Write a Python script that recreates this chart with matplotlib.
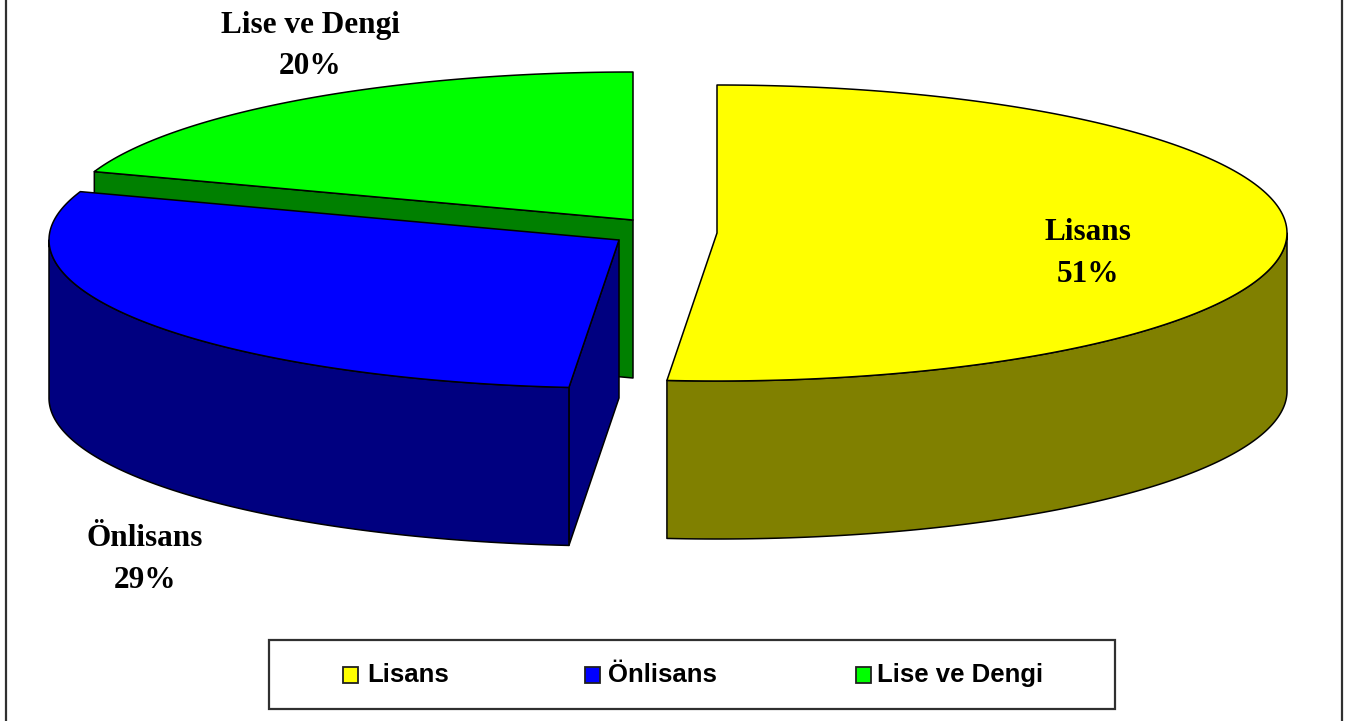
import numpy as np
import matplotlib
matplotlib.use("Agg")
import matplotlib.pyplot as plt
from matplotlib.patches import Polygon, Rectangle

categories = ["Lisans", "Önlisans", "Lise ve Dengi"]
values = [51.4, 28.9, 19.7]
percent_labels = ["51%", "29%", "20%"]
top_colors = ["#FFFF00", "#0000FF", "#00FF00"]
side_colors = ["#808000", "#000080", "#008000"]

# layout in image pixels
centers = [(717, 233), (619, 240), (633, 220)]
label_pos = [(1088, 233, 274), (145, 538, 581), (310, 26, 67)]
swatch_x = [343, 585, 856]
legend_text_x = [367, 608, 877]
RX, RY, DEPTH = 570, 148, 158

fig = plt.figure(figsize=(13.46, 7.21), dpi=100)
ax = fig.add_axes([0, 0, 1, 1])
ax.set_xlim(0, 1346)
ax.set_ylim(721, 0)
ax.axis("off")

LW = 1.1


def rim(cx, cy, a0, a1):
    t = np.radians(np.linspace(a0, a1, 200))
    return np.column_stack([cx + RX * np.sin(t), cy - RY * np.cos(t)])


def poly(pts, fc, z):
    ax.add_patch(Polygon(pts, closed=True, facecolor=fc, edgecolor="black",
                         linewidth=LW, joinstyle="round", zorder=z))


edges = np.concatenate([[0], np.cumsum(values)]) / np.sum(values) * 360
order = [2, 1, 0]  # back to front
for z, i in enumerate(order):
    a0, a1 = edges[i], edges[i + 1]
    cx, cy = centers[i]
    base = 10 * (z + 1)
    down = np.array([0, DEPTH])
    apex = np.array([cx, cy])

    def radial(a):
        return rim(cx, cy, a, a)[0]

    # cut faces that look toward the viewer
    if 180 < a0 < 360:
        p = radial(a0)
        poly([apex, p, p + down, apex + down], side_colors[i], base)
    if 0 < a1 < 180:
        p = radial(a1)
        poly([apex, p, p + down, apex + down], side_colors[i], base)
    # outer wall: front half of the rim only
    w0, w1 = max(a0, 90), min(a1, 270)
    if w1 > w0:
        arc = rim(cx, cy, w0, w1)
        poly(np.vstack([arc, arc[::-1] + down]), side_colors[i], base + 1)
    # top surface
    poly(np.vstack([[apex], rim(cx, cy, a0, a1)]), top_colors[i], base + 2)

# data labels
for name, pct, (x, y1, y2) in zip(categories, percent_labels, label_pos):
    for s, y in ((name, y1), (pct, y2)):
        ax.text(x, y, s, ha="center", va="center", fontsize=22.5,
                fontweight="bold", family="Liberation Serif", color="black", zorder=100)

# frame (top and bottom are cropped away in the reference)
ax.plot([6, 6], [0, 721], color="#303030", lw=1.6, zorder=1)
ax.plot([1342, 1342], [0, 721], color="#303030", lw=1.6, zorder=1)

# legend
ax.add_patch(Rectangle((269, 640), 846, 69, facecolor="white", edgecolor="#303030",
                       linewidth=1.6, zorder=90))
for name, c, sx, tx in zip(categories, top_colors, swatch_x, legend_text_x):
    ax.add_patch(Rectangle((sx, 667), 15, 16, facecolor=c, edgecolor="#202020",
                           linewidth=1.3, zorder=91))
    ax.text(tx, 675, name, ha="left", va="center", fontsize=18.5, fontweight="bold",
            family="Liberation Sans", color="black", zorder=92)

fig.savefig("out.png", dpi=100, facecolor="white")
